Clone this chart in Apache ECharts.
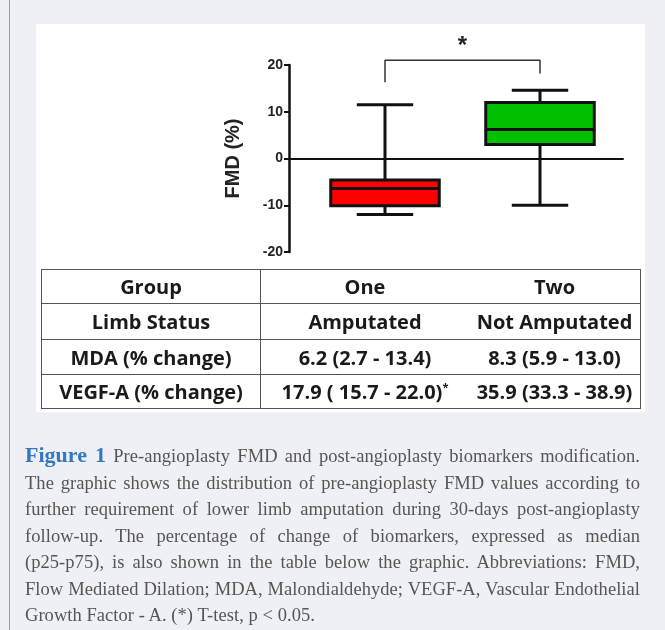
<!DOCTYPE html>
<html>
<head>
<meta charset="utf-8">
<script src="https://cdn.jsdelivr.net/npm/echarts@6/dist/echarts.min.js"></script>
<style>
  html, body { margin:0; padding:0; }
  body { width:665px; height:630px; background:#eff0f6; position:relative; overflow:hidden; }
  #lborder { position:absolute; left:9px; top:0; width:1px; height:630px; background:#9a9aa2; }
  #panel { position:absolute; left:36px; top:24px; width:609px; height:388px; background:#ffffff; }
  #chart { position:absolute; left:0; top:0; width:665px; height:630px; z-index:1; }
  #tbl { position:absolute; left:41px; top:269px; width:600px; border-collapse:collapse; z-index:2;
         font-family:'Open Sans', 'Noto Sans', sans-serif; font-weight:700; font-size:20px; color:#1a1a1a; }
  #tbl td { border-top:1.5px solid #555; border-bottom:1.5px solid #555; text-align:center; padding:0; white-space:nowrap; }
  #tbl td.c1 { border-left:1.5px solid #555; border-right:1.5px solid #555; width:218px; }
  #tbl td.c2 { width:208px; }
  #tbl td.c3 { border-right:1.5px solid #555; }
  #tbl sup { font-size:11px; }
  #caption { position:absolute; left:25px; top:442px; width:615px; z-index:2;
             font-family:'Liberation Serif', 'DejaVu Serif', serif; font-size:18.5px; letter-spacing:0.05px; color:#555; line-height:26.5px; }
  #caption .ln { text-align:justify; text-align-last:justify; white-space:nowrap; }
  #caption .ln.last { text-align:left; text-align-last:left; }
  #caption .fig { color:#3478c0; font-weight:700; font-size:22px; letter-spacing:0; }
</style>
</head>
<body>
<div id="lborder"></div>
<div id="panel"></div>
<div id="chart"></div>
<table id="tbl">
  <tr style="height:34px"><td class="c1">Group</td><td class="c2">One</td><td class="c3">Two</td></tr>
  <tr style="height:36px"><td class="c1">Limb Status</td><td class="c2">Amputated</td><td class="c3">Not Amputated</td></tr>
  <tr style="height:35px"><td class="c1">MDA (% change)</td><td class="c2">6.2 (2.7 - 13.4)</td><td class="c3">8.3 (5.9 - 13.0)</td></tr>
  <tr style="height:34px"><td class="c1">VEGF-A (% change)</td><td class="c2">17.9 ( 15.7 - 22.0)<sup>*</sup></td><td class="c3">35.9 (33.3 - 38.9)</td></tr>
</table>
<div id="caption">
  <div class="ln"><span class="fig">Figure 1</span> Pre-angioplasty FMD and post-angioplasty biomarkers modification.</div>
  <div class="ln">The graphic shows the distribution of pre-angioplasty FMD values according to</div>
  <div class="ln">further requirement of lower limb amputation during 30-days post-angioplasty</div>
  <div class="ln">follow-up. The percentage of change of biomarkers, expressed as median</div>
  <div class="ln">(p25-p75), is also shown in the table below the graphic. Abbreviations: FMD,</div>
  <div class="ln">Flow Mediated Dilation; MDA, Malondialdehyde; VEGF-A, Vascular Endothelial</div>
  <div class="ln last">Growth Factor - A. (*) T-test, p &lt; 0.05.</div>
</div>
<script>
// ---- data ----
const groups = ['Amputated', 'Not Amputated'];
const whiskerMin = [-12.0, -10.0];
const quart1 = [-10.1, 3.0];
const medians = [-6.4, 6.2];
const quart3 = [-4.6, 12.0];
const whiskerMax = [11.5, 14.6];
// significance bracket (group, FMD value)
const bracketGroups = ['Amputated', 'Amputated', 'Not Amputated', 'Not Amputated'];
const bracketValues = [16.3, 21.0, 21.0, 18.2];
const sigLabel = '*';
const yTicks = { min: -20, max: 20, step: 10 };
const plotHeadroomMax = 30; // hidden value range above the axis, holds bracket and star

// ---- styles ----
const boxColors = ['#ff0000', '#00c000'];
const ink = '#111111';
const fontFam = "'Liberation Sans', Arial, sans-serif";

const boxData = groups.map((g, i) => [i, whiskerMin[i], quart1[i], medians[i], quart3[i], whiskerMax[i]]);
const bracketData = bracketGroups.map((g, i) => [g, bracketValues[i]]);

// pixel layout of the visible axis
const axisTop = 65, axisBottomPx = 252;
const pxPerUnit = (axisBottomPx - axisTop) / (yTicks.max - yTicks.min);
const hiddenTop = axisTop - (plotHeadroomMax - yTicks.max) * pxPerUnit;

const chart = echarts.init(document.getElementById('chart'), null, { renderer: 'canvas' });
chart.setOption({
  backgroundColor: 'transparent',
  animation: false,
  grid: [
    { left: 307.5, right: 47.5, top: hiddenTop, bottom: 630 - axisBottomPx },
    { left: 289, right: 42, top: axisTop, bottom: 630 - axisBottomPx }
  ],
  xAxis: [
    { type: 'category', gridIndex: 0, data: groups, show: false, boundaryGap: true },
    { type: 'value', gridIndex: 1, min: 0, max: 1,
      axisLine: { show: true, onZero: true, lineStyle: { color: ink, width: 2 } },
      axisTick: { show: false }, axisLabel: { show: false }, splitLine: { show: false } }
  ],
  yAxis: [
    { type: 'value', gridIndex: 0, min: yTicks.min, max: plotHeadroomMax, interval: yTicks.step, show: false },
    { type: 'value', gridIndex: 1, min: yTicks.min, max: yTicks.max, interval: yTicks.step,
      name: 'FMD (%)', nameLocation: 'middle', nameRotate: 90, nameGap: 46,
      nameTextStyle: { fontFamily: fontFam, fontWeight: 'bold', fontSize: 20, color: '#222' },
      axisLine: { show: true, onZero: false, lineStyle: { color: ink, width: 2.5 } },
      axisTick: { show: true, inside: false, length: 5, lineStyle: { color: ink, width: 2 } },
      axisLabel: { fontFamily: fontFam, fontWeight: 'bold', fontSize: 14, color: '#222', margin: 6 },
      splitLine: { show: false } }
  ],
  series: [
    {
      type: 'custom',
      xAxisIndex: 0, yAxisIndex: 0,
      data: boxData,
      clip: false,
      renderItem: function (params, api) {
        const x = api.value(0);
        const pMin = api.coord([x, api.value(1)]);
        const pQ1 = api.coord([x, api.value(2)]);
        const pMed = api.coord([x, api.value(3)]);
        const pQ3 = api.coord([x, api.value(4)]);
        const pMax = api.coord([x, api.value(5)]);
        const band = api.size([1, 0])[0];
        const bw = band * 0.70;
        const cw = bw * 0.52;
        const cx = pMin[0];
        const ls = { stroke: ink, lineWidth: 3, fill: null };
        return {
          type: 'group',
          children: [
            { type: 'line', shape: { x1: cx, y1: pMax[1], x2: cx, y2: pMin[1] }, style: ls },
            { type: 'line', shape: { x1: cx - cw / 2, y1: pMax[1], x2: cx + cw / 2, y2: pMax[1] }, style: ls },
            { type: 'line', shape: { x1: cx - cw / 2, y1: pMin[1], x2: cx + cw / 2, y2: pMin[1] }, style: ls },
            { type: 'rect', shape: { x: cx - bw / 2, y: pQ3[1], width: bw, height: pQ1[1] - pQ3[1] },
              style: { fill: boxColors[params.dataIndex], stroke: ink, lineWidth: 3 } },
            { type: 'line', shape: { x1: cx - bw / 2, y1: pMed[1], x2: cx + bw / 2, y2: pMed[1] }, style: ls }
          ]
        };
      }
    },
    {
      type: 'line',
      xAxisIndex: 0, yAxisIndex: 0,
      data: bracketData,
      clip: false,
      symbol: 'none',
      lineStyle: { color: '#333', width: 1.5 },
      markLine: {
        symbol: 'none',
        silent: true,
        lineStyle: { width: 1, color: 'rgba(0,0,0,0)', type: 'solid' },
        label: { show: true, position: 'middle', formatter: sigLabel, distance: 2,
                 fontFamily: fontFam, fontWeight: 'bold', fontSize: 24, color: '#222' },
        data: [[{ coord: [bracketGroups[1], bracketValues[1]] }, { coord: [bracketGroups[2], bracketValues[2]] }]]
      }
    }
  ]
});
</script>
</body>
</html>
